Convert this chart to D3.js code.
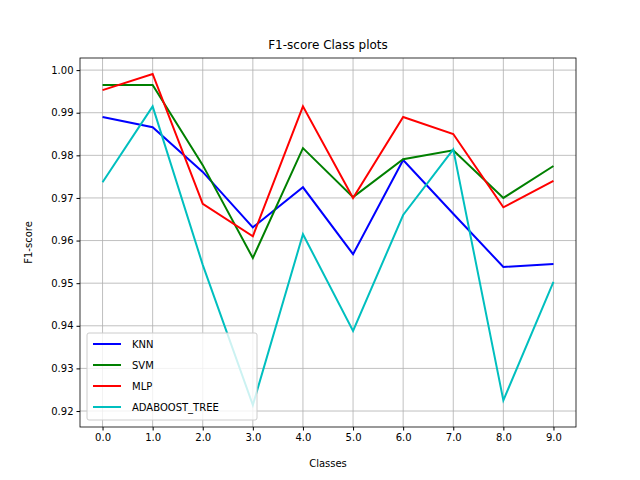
<!DOCTYPE html><html><head><script src="https://cdn.jsdelivr.net/npm/d3@7"></script>
<style>body{margin:0;background:#fff}text{font-family:"DejaVu Sans",sans-serif}</style></head><body>
<script>
const classes=[0,1,2,3,4,5,6,7,8,9];
const knn=[0.9890,0.9866,0.9761,0.9631,0.9725,0.9568,0.9789,0.9663,0.9538,0.9545];
const svm=[0.9965,0.9965,0.9777,0.9559,0.9817,0.9702,0.9791,0.9812,0.9700,0.9775];
const mlp=[0.9953,0.9991,0.9686,0.9610,0.9915,0.9700,0.9890,0.9850,0.9678,0.9740];
const ada=[0.9737,0.9915,0.9543,0.9214,0.9615,0.9388,0.9660,0.9814,0.9225,0.9503];
const yTicks=[0.92,0.93,0.94,0.95,0.96,0.97,0.98,0.99,1.00];
const series=[{n:"KNN",v:knn,c:"#0000ff"},{n:"SVM",v:svm,c:"#008000"},{n:"MLP",v:mlp,c:"#ff0000"},{n:"ADABOOST_TREE",v:ada,c:"#00bfbf"}];
const L=80,R=576,T=58,B=427;
const svg=d3.select("body").append("svg").attr("width",640).attr("height",480);
const x=d3.scaleLinear().domain([-0.45,9.45]).range([L,R]);
const y=d3.scaleLinear().domain([0.91625,1.00284]).range([B,T]);
const g=svg.append("g");
g.selectAll(".gx").data(classes).enter().append("line").attr("x1",d=>x(d)).attr("x2",d=>x(d)).attr("y1",T).attr("y2",B).attr("stroke","#b0b0b0").attr("stroke-width",0.8);
g.selectAll(".gy").data(yTicks).enter().append("line").attr("y1",d=>y(d)).attr("y2",d=>y(d)).attr("x1",L).attr("x2",R).attr("stroke","#b0b0b0").attr("stroke-width",0.8);
const line=d3.line().x((d,i)=>x(classes[i])).y(d=>y(d));
series.forEach(s=>svg.append("path").attr("d",line(s.v)).attr("fill","none").attr("stroke",s.c).attr("stroke-width",2));
const ax=svg.append("g").attr("transform",`translate(0,${B})`).call(d3.axisBottom(x).tickValues(classes).tickFormat(d3.format(".1f")).tickSizeOuter(0).tickSize(3.5));
const ay=svg.append("g").attr("transform",`translate(${L},0)`).call(d3.axisLeft(y).tickValues(yTicks).tickFormat(d3.format(".2f")).tickSizeOuter(0).tickSize(3.5));
[ax,ay].forEach(a=>{a.select(".domain").remove();a.selectAll("text").attr("font-size",10).attr("fill","#000");a.selectAll("line").attr("stroke","#000");});
svg.append("rect").attr("x",L).attr("y",T).attr("width",R-L).attr("height",B-T).attr("fill","none").attr("stroke","#000").attr("stroke-width",0.8);
svg.append("text").attr("x",(L+R)/2).attr("y",49).attr("text-anchor","middle").attr("font-size",12).text("F1-score Class plots");
svg.append("text").attr("x",(L+R)/2).attr("y",467).attr("text-anchor","middle").attr("font-size",10).text("Classes");
svg.append("text").attr("transform",`translate(32,${(T+B)/2}) rotate(-90)`).attr("text-anchor","middle").attr("font-size",10).text("F1-score");
const lg=svg.append("g").attr("transform","translate(87,333)");
lg.append("rect").attr("width",170).attr("height",87).attr("rx",2).attr("fill","#fff").attr("fill-opacity",0.8).attr("stroke","#ccc");
series.forEach((s,i)=>{const yy=11+i*21;
lg.append("line").attr("x1",6).attr("x2",34).attr("y1",yy).attr("y2",yy).attr("stroke",s.c).attr("stroke-width",2);
lg.append("text").attr("x",45).attr("y",yy+4).attr("font-size",10).text(s.n);});
</script></body></html>
